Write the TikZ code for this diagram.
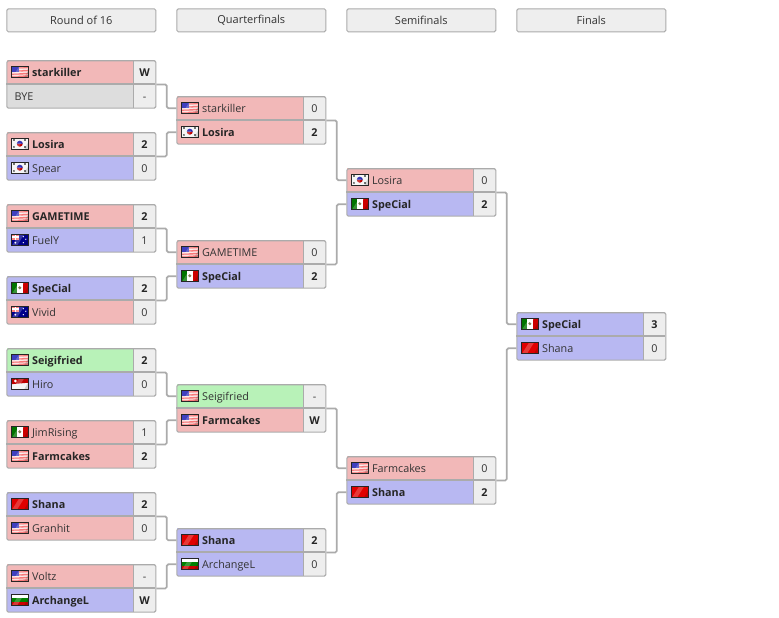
\documentclass[tikz,border=0pt]{standalone}
\usepackage{fontspec}
\setmainfont{Open Sans}
\definecolor{edge}{HTML}{ABABAB}
\definecolor{lose}{HTML}{F2B8B8}
\definecolor{blu}{HTML}{B8B8F2}
\definecolor{grn}{HTML}{B8F2B8}
\definecolor{bye}{HTML}{DDDDDD}
\definecolor{pale}{HTML}{EEEEEE}
\definecolor{ink}{HTML}{333333}
\tikzset{
  rowbox/.style={anchor=north west,minimum width=127.2pt,minimum height=23.7pt,inner sep=0pt,draw=none},
  scorebox/.style={anchor=north west,minimum width=21.8pt,minimum height=23.7pt,inner sep=0pt,fill=pale,draw=none},
  framebox/.style={anchor=north west,minimum width=149pt,minimum height=47.4pt,inner sep=0pt,draw=edge,line width=1.1pt,rounded corners=1.5pt},
  headbox/.style={anchor=north west,minimum width=149pt,minimum height=23pt,inner sep=0pt,draw=edge,line width=1pt,fill=pale,rounded corners=1.5pt,text=ink,font=\fontsize{11}{12}\selectfont},
  divider/.style={edge,line width=1.1pt},
  conn/.style={edge,line width=1.7pt,rounded corners=1.5pt},
  plain/.style={inner sep=0pt,text=ink,font=\fontsize{10.8}{12}\selectfont},
  champ/.style={inner sep=0pt,text=black!85,font=\fontsize{10.8}{12}\selectfont\bfseries},
}
% flags: drawn in a 17 x 11 box with origin at the top-left corner, with a soft gloss
\newcommand{\flagbox}[1]{\begin{scope}\clip (0,0) rectangle (17,11);#1
  \fill[white,opacity=.22] (1,11) -- (8,0) -- (13,0) -- (6,11) -- cycle;
  \fill[black,opacity=.14] (13,11) -- (17,4) -- (17,11) -- cycle;\end{scope}\draw[black!85,line width=.8pt] (0,0) rectangle (17,11);}
\newcommand{\flagus}{\flagbox{\fill[white!70!lose] (0,0) rectangle (17,11);
  \foreach \s in {1.5,4.5,7.5,10}{\fill[red!35!lose] (0,\s) -- (17,\s-1) -- (17,\s+.5) -- (0,\s+1.5) -- cycle;}
  \fill[blue!50!gray] (0,0) rectangle (7.5,5.5);}}
\newcommand{\flagkr}{\flagbox{\fill[white!92!gray] (0,0) rectangle (17,11);
  \fill[black!55] (2,1) rectangle (4,3);\fill[black!55] (13,1) rectangle (15,3);\fill[black!55] (2,8) rectangle (4,10);\fill[black!55] (13,8) rectangle (15,10);
  \fill[red!75!black] (5.5,5.5) arc[start angle=180,end angle=0,radius=3] -- cycle;
  \fill[blue!65!black] (5.5,5.5) arc[start angle=180,end angle=360,radius=3] -- cycle;}}
\newcommand{\flagmx}{\flagbox{\fill[white] (0,0) rectangle (17,11);
  \fill[green!45!black] (0,0) rectangle (5.7,11);\fill[red!80!black] (11.3,0) rectangle (17,11);
  \fill[olive!60!black] (8.5,5.5) circle[radius=1.6];}}
\newcommand{\flagau}{\flagbox{\fill[blue!55!black] (0,0) rectangle (17,11);
  \fill[red!50!white] (0,0) rectangle (8,5.5);\fill[white] (3.2,0) rectangle (4.8,5.5);\fill[white] (0,2) rectangle (8,3.5);
  \fill[white] (12,2.5) circle[radius=.7];\fill[white] (14.5,5) circle[radius=.7];\fill[white] (12,8.5) circle[radius=.7];\fill[white] (4,8.5) circle[radius=1];}}
\newcommand{\flagsg}{\flagbox{\fill[white!92!gray] (0,0) rectangle (17,11);
  \fill[red!75!black] (0,0) -- (17,0) -- (17,4.5) -- (0,6) -- cycle;\fill[white] (4,2.8) circle[radius=1.5];}}
\newcommand{\flagrd}{\flagbox{\fill[red!88!black] (0,0) rectangle (17,11);}}
\newcommand{\flagbg}{\flagbox{\fill[white] (0,0) rectangle (17,3.7);\fill[green!50!black] (0,3.7) rectangle (17,7.4);\fill[red!80!black] (0,7.4) rectangle (17,11);}}
% #1 id, #2 x, #3 y, #4 fill, #5 flag, #6 name, #7 score, #8 text style
\newcommand{\plrow}[8]{%
  \node[rowbox,fill=#4] (#1) at (#2,#3) {};
  \node[scorebox] (#1-s) at (#2+127.2,#3) {};
  \begin{scope}[shift={(#2+5,#3+6)}]\csname flag#5\endcsname\end{scope}
  \node[#8,anchor=base west] (#1-t) at (#2+25.6,#3+16) {#6};
  \node[#8,anchor=base] (#1-n) at (#2+138.2,#3+16) {#7};
}
\newcommand{\byerow}[3]{%
  \node[rowbox,fill=bye] (#1) at (#2,#3) {};
  \node[scorebox] (#1-s) at (#2+127.2,#3) {};
  \node[plain,anchor=base west] (#1-t) at (#2+8,#3+16) {BYE};
  \node[plain,anchor=base] (#1-n) at (#2+138.2,#3+16) {-};
}
\newcommand{\mframe}[3]{%
  \draw[divider] (#2,#3+23.8) -- (#2+149,#3+23.8);
  \draw[divider] (#2+127.2,#3) -- (#2+127.2,#3+47.4);
  \node[framebox] (#1) at (#2,#3) {};
}
\begin{document}
\begin{tikzpicture}[x=1pt,y=-1pt]
\useasboundingbox (0,0) rectangle (779,618);
\fill[white] (0,0) rectangle (779,618);
\node[headbox] (h1) at (6.3,8.3) {Round of 16};
\node[headbox] (h2) at (176.3,8.3) {Quarterfinals};
\node[headbox] (h3) at (346.3,8.3) {Semifinals};
\node[headbox] (h4) at (516.3,8.3) {Finals};
% Round of 16
\plrow{ra}{6.3}{60.2}{lose}{us}{starkiller}{W}{champ}\byerow{rb}{6.3}{84.2}\mframe{r1}{6.3}{60.2}
\plrow{rc}{6.3}{132.2}{lose}{kr}{Losira}{2}{champ}\plrow{rd}{6.3}{156.2}{blu}{kr}{Spear}{0}{plain}\mframe{r2}{6.3}{132.2}
\plrow{re}{6.3}{204.2}{lose}{us}{GAMETIME}{2}{champ}\plrow{rf}{6.3}{228.2}{blu}{au}{FuelY}{1}{plain}\mframe{r3}{6.3}{204.2}
\plrow{rg}{6.3}{276.2}{blu}{mx}{SpeCial}{2}{champ}\plrow{rh}{6.3}{300.2}{lose}{au}{Vivid}{0}{plain}\mframe{r4}{6.3}{276.2}
\plrow{ri}{6.3}{348.2}{grn}{us}{Seigifried}{2}{champ}\plrow{rj}{6.3}{372.2}{blu}{sg}{Hiro}{0}{plain}\mframe{r5}{6.3}{348.2}
\plrow{rk}{6.3}{420.2}{lose}{mx}{JimRising}{1}{plain}\plrow{rl}{6.3}{444.2}{lose}{us}{Farmcakes}{2}{champ}\mframe{r6}{6.3}{420.2}
\plrow{rm}{6.3}{492.2}{blu}{rd}{Shana}{2}{champ}\plrow{rn}{6.3}{516.2}{lose}{us}{Granhit}{0}{plain}\mframe{r7}{6.3}{492.2}
\plrow{ro}{6.3}{564.2}{lose}{us}{Voltz}{-}{plain}\plrow{rp}{6.3}{588.2}{blu}{bg}{ArchangeL}{W}{champ}\mframe{r8}{6.3}{564.2}
% Quarterfinals
\plrow{qa}{176.3}{96.2}{lose}{us}{starkiller}{0}{plain}\plrow{qb}{176.3}{120.2}{lose}{kr}{Losira}{2}{champ}\mframe{q1}{176.3}{96.2}
\plrow{qc}{176.3}{240.2}{lose}{us}{GAMETIME}{0}{plain}\plrow{qd}{176.3}{264.2}{blu}{mx}{SpeCial}{2}{champ}\mframe{q2}{176.3}{240.2}
\plrow{qe}{176.3}{384.2}{grn}{us}{Seigifried}{-}{plain}\plrow{qf}{176.3}{408.2}{lose}{us}{Farmcakes}{W}{champ}\mframe{q3}{176.3}{384.2}
\plrow{qg}{176.3}{528.2}{blu}{rd}{Shana}{2}{champ}\plrow{qh}{176.3}{552.2}{blu}{bg}{ArchangeL}{0}{plain}\mframe{q4}{176.3}{528.2}
% Semifinals
\plrow{sa}{346.3}{168.2}{lose}{kr}{Losira}{0}{plain}\plrow{sb}{346.3}{192.2}{blu}{mx}{SpeCial}{2}{champ}\mframe{s1}{346.3}{168.2}
\plrow{sc}{346.3}{456.2}{lose}{us}{Farmcakes}{0}{plain}\plrow{sd}{346.3}{480.2}{blu}{rd}{Shana}{2}{champ}\mframe{s2}{346.3}{456.2}
% Finals
\plrow{fa}{516.3}{312.2}{blu}{mx}{SpeCial}{3}{champ}\plrow{fb}{516.3}{336.2}{blu}{rd}{Shana}{0}{plain}\mframe{f1}{516.3}{312.2}
% Connectors
\foreach \a/\b in {r1/qa,r2/qb,r3/qc,r4/qd,r5/qe,r6/qf,r7/qg,r8/qh,q1/sa,q2/sb,q3/sc,q4/sd,s1/fa,s2/fb}{
  \draw[conn] (\a.east) -- ++(10.4,0) |- (\b.west);
}
\end{tikzpicture}
\end{document}
